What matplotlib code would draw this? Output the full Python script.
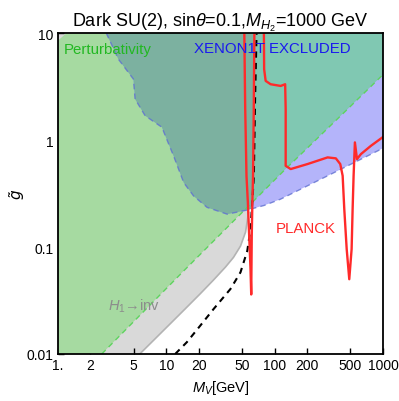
import numpy as np
import matplotlib.pyplot as plt
from matplotlib.patches import Polygon

plt.rcParams['font.family'] = ['Liberation Sans', 'DejaVu Sans']
plt.rcParams['mathtext.fontset'] = 'custom'
plt.rcParams['mathtext.rm'] = 'Liberation Sans'
plt.rcParams['mathtext.it'] = 'Liberation Sans:italic'

# perturbativity bound (green dashed), excluded above
pert_m = [2.54, 15, 126, 471, 1000]
pert_g = [0.01, 0.062, 0.536, 1.95, 4.1]
pert_corner_m = [1.2, 1.0]
pert_corner_g = [10, 8.5]

# XENON1T bound (blue dashed), excluded above
xe_m = [2.8, 3.62, 4.98, 5.16, 6.39, 9.12, 10.1, 11.7, 14.5, 17.9, 23.8, 36.5, 55.9, 80, 113, 330, 1000]
xe_g = [10, 5.71, 3.72, 2.42, 1.69, 1.32, 1.02, 0.71, 0.40, 0.30, 0.235, 0.203, 0.222, 0.245, 0.28, 0.48, 0.84]

# H1 -> invisible bound (grey), excluded above
inv_m = [5.7, 7.91, 10.9, 15.0, 20.6, 27.2, 35.2, 41.7, 48.4, 53.9, 57.4, 60.2, 62.5, 62.5]
inv_g = [0.01, 0.0139, 0.0192, 0.0265, 0.0366, 0.049, 0.065, 0.080, 0.102, 0.138, 0.21, 0.35, 1.0, 10]

# black dashed curve
bd_m = [12.1, 15.5, 20.6, 27.4, 39.1, 48.4, 55.9, 59.9, 62.2, 64.3, 66.0, 68.1]
bd_g = [0.01, 0.0129, 0.0184, 0.0264, 0.0405, 0.058, 0.092, 0.147, 0.264, 0.46, 2.4, 10]

# PLANCK relic density contour, two pieces
pl1_m = [52.5, 53.5, 55.0, 56.6, 58.2, 59.9, 60.8, 61.1, 61.5, 62.3, 63.2, 64.2, 65.0]
pl1_g = [10, 2.0, 0.46, 0.263, 0.128, 0.062, 0.036, 0.062, 0.128, 0.263, 0.46, 2.0, 10]
pl2_m = [79.6, 80.0, 82.6, 91.8, 113.6, 125, 126.4, 126.4, 140.6, 201, 308, 367, 403, 424, 439, 462,
         488, 513, 524, 535, 550, 575, 625, 774, 1000]
pl2_g = [10, 4.6, 3.58, 3.33, 3.21, 3.33, 1.95, 0.575, 0.536, 0.597, 0.689, 0.675, 0.597, 0.464, 0.226, 0.0957,
         0.050, 0.0957, 0.226, 0.464, 0.952, 0.664, 0.74, 0.885, 1.07]

xticks = [1, 2, 5, 10, 20, 50, 100, 200, 500, 1000]
xticklabels = ["1.", "2", "5", "10", "20", "50", "100", "200", "500", "1000"]
yticks = [0.01, 0.1, 1, 10]
yticklabels = ["0.01", "0.1", "1", "10"]

fig = plt.figure(figsize=(3.99, 4.02), dpi=100)
ax = fig.add_axes([0.145, 0.117, 0.815, 0.798])
ax.set_xscale('log')
ax.set_yscale('log')
ax.set_xlim(1, 1000)
ax.set_ylim(0.01, 10)

grey_verts = [(1, 0.01)] + list(zip(inv_m, inv_g)) + [(1, 10)]
green_verts = [(1, 0.01)] + list(zip(pert_m, pert_g)) + [(1000, 10)] + list(zip(pert_corner_m, pert_corner_g))
xe_verts = list(zip(xe_m, xe_g)) + [(1000, 10), (2.8, 10)]

ax.add_patch(Polygon(grey_verts, closed=True, fc='#d9d9d9', ec='none', zorder=1))
ax.add_patch(Polygon(green_verts, closed=True, fc='#a6daa1', ec='none', zorder=2))
ax.add_patch(Polygon(xe_verts, closed=True, fc='#b4b4fa', ec='none', zorder=3))

clip = Polygon(xe_verts, closed=True, transform=ax.transData)
teal = Polygon(green_verts, closed=True, fc='#80c8b2', ec='none', zorder=4)
ax.add_patch(teal)
teal.set_clip_path(clip)
dark = Polygon([(1, 0.01), (62.5, 0.01), (62.5, 10), (1, 10)], closed=True, fc='#7cb1a0', ec='none', zorder=5)
ax.add_patch(dark)
dark.set_clip_path(clip)

ax.plot(inv_m[:11], inv_g[:11], color='#b3b3b3', lw=1.2, zorder=6)
ax.plot(pert_m, pert_g, color='#5fd35f', lw=1, dashes=(4, 3), zorder=6)
ax.plot(xe_m, xe_g, color='#6070d0', lw=1, dashes=(4, 3), alpha=0.8, zorder=6)
ax.plot(bd_m, bd_g, color='black', lw=1.5, dashes=(3, 2.5), zorder=7)
ax.plot(pl1_m, pl1_g, color='#ff2a2a', lw=1.7, zorder=8)
ax.plot(pl2_m, pl2_g, color='#ff2a2a', lw=1.7, zorder=8)

ax.text(1.14, 7.1, "Perturbativity", color='#22b822', fontsize=10.8, va='center', zorder=10)
ax.text(18.2, 7.2, "XENON1T EXCLUDED", color='#1a1aee', fontsize=10.8, va='center', zorder=10)
ax.text(102, 0.151, "PLANCK", color='#ff2a2a', fontsize=10.8, va='center', zorder=10)
ax.text(2.9, 0.0287, "$H_1$→inv", color='#8c8c8c', fontsize=10.5, va='center', zorder=10)

ax.set_title(r"Dark SU(2), sin$\theta$=0.1,$M_{H_2}$=1000 GeV", fontsize=13, pad=5)
ax.set_xlabel("$M_V$[GeV]", fontsize=10.5, labelpad=4)
ax.set_ylabel(r"$\tilde{g}$", fontsize=11, math_fontfamily='dejavusans')
ax.yaxis.set_label_coords(-0.095, 0.5)

ax.set_xticks(xticks)
ax.set_xticklabels(xticklabels)
ax.set_yticks(yticks)
ax.set_yticklabels(yticklabels)
ax.minorticks_off()
ax.tick_params(direction='in', length=4, width=1, labelsize=10, pad=3)
for s in ax.spines.values():
    s.set_linewidth(1.3)
    s.set_zorder(11)

fig.savefig("out.png", dpi=100)
